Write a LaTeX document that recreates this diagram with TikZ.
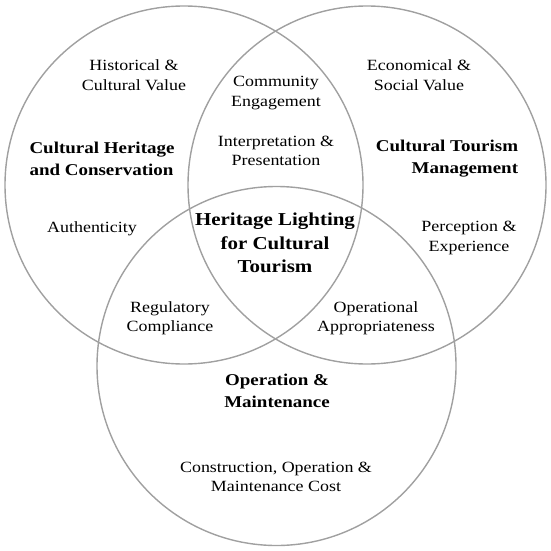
\documentclass[tikz,border=0pt]{standalone}
\usepackage{fontspec}
\setmainfont{Liberation Serif}[FakeStretch=1.15]
\usepackage{xcolor}
\definecolor{ringgray}{HTML}{A0A0A0}

\begin{document}
\begin{tikzpicture}[x=1pt,y=-1pt,
  ring/.style={draw=ringgray,line width=1.4pt},
  item/.style={align=center,font=\fontsize{15.6}{19.5}\selectfont,inner sep=0pt},
  head/.style={align=center,font=\fontsize{16.5}{22}\selectfont\bfseries,inner sep=0pt},
  core/.style={align=center,font=\fontsize{18.2}{23.5}\selectfont\bfseries,inner sep=0pt}]
\useasboundingbox (0,0) rectangle (550,551);
% three circles
\draw[ring] (184,185) circle[radius=179];
\draw[ring] (367,185) circle[radius=179];
\draw[ring] (276.5,366) circle[radius=179.5];
% left circle
\node[item] (hist) at (134,75) {Historical \&\\Cultural Value};
\node[head,align=left] (heri) at (102,159) {Cultural Heritage\\and Conservation};
\node[item] (auth) at (92,229) {Authenticity};
% right circle
\node[item] (econ) at (419,75) {Economical \&\\Social Value};
\node[head,align=right] (tour) at (447,159) {Cultural Tourism\\Management};
\node[item] (perc) at (469,238) {Perception \&\\Experience};
% overlaps
\node[item] (comm) at (276,93) {Community\\Engagement};
\node[item] (intp) at (276,151) {Interpretation \&\\Presentation};
\node[item] (regu) at (170,318) {Regulatory\\Compliance};
\node[item] (appr) at (376,318) {Operational\\Appropriateness};
\node[core] (lite) at (275,243) {Heritage Lighting\\for Cultural\\Tourism};
% bottom circle
\node[head] (oper) at (277,391) {Operation \&\\Maintenance};
\node[item] (cost) at (276,477) {Construction, Operation \&\\Maintenance Cost};
\end{tikzpicture}
\end{document}
